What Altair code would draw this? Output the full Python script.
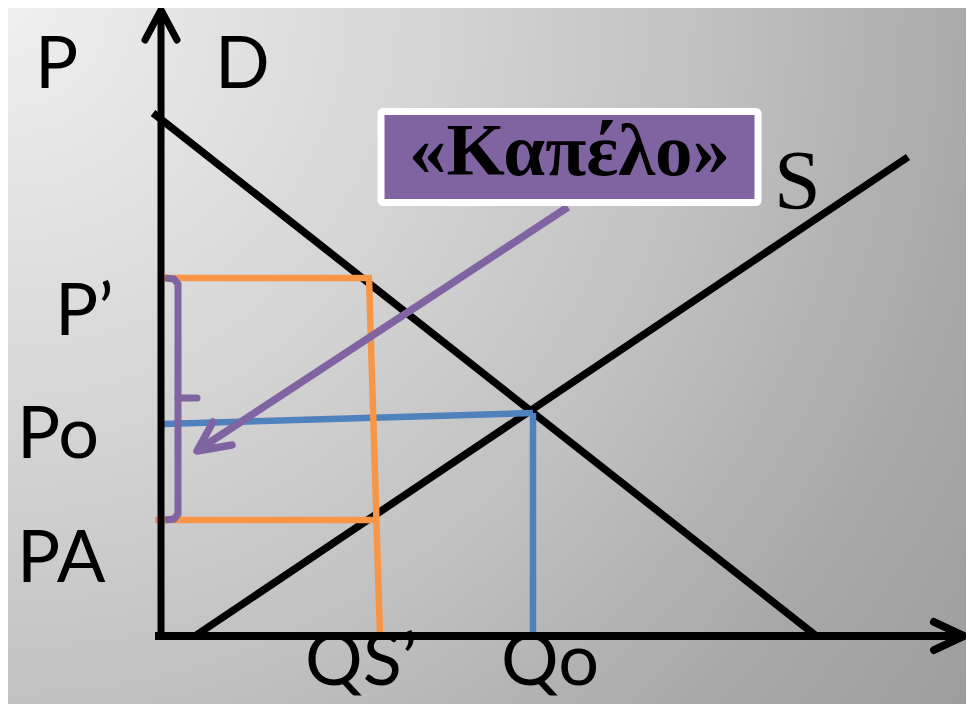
import altair as alt
import pandas as pd

# ---- frame of the diagram (quantity Q, price P, arbitrary units) ----
Q_MIN, Q_MAX = -15.3, 80.5
P_MIN, P_MAX = -6.8, 62.8

# ---- curves ----
demand_q = [-0.8, 65.4]
demand_p = [52.3, 0.1]
supply_q = [3.4, 74.7]
supply_p = [0.0, 47.9]

# ---- key values ----
Q0, P0 = 37.2, 22.3          # equilibrium
P0_AXIS = 21.2               # blue price line where it meets the axis
P_PRIME = 35.8               # price P'
P_A = 11.6                   # price PA
QS_TOP, QS_BOT = 20.8, 21.9  # QS' (orange, slightly slanted)

# ---- axis extents ----
x_axis_q = [-0.6, 80.3]
y_axis_p = [0.0, 62.6]

# ---- texts ----
axis_labels = ["P", "D", "P\u2019", "Po", "PA", "QS\u2019", "Qo"]
axis_label_q = [-12.6, 5.4, -10.6, -14.4, -14.4, 14.4, 34.0]
axis_label_p = [54.8, 54.8, 30.1, 17.8, 5.4, -4.9, -4.9]
supply_label = "S"
supply_label_q, supply_label_p = 61.3, 42.7
box_text = "\u00abΚαπέλο\u00bb"
box_q = [22.0, 59.7]
box_p = [43.35, 52.45]

BLACK = "#000000"
ORANGE = "#F79646"
BLUE = "#4F81BD"
PURPLE = "#8064A2"

X = alt.X("q:Q", scale=alt.Scale(domain=[Q_MIN, Q_MAX], nice=False, zero=False), axis=None)
Y = alt.Y("p:Q", scale=alt.Scale(domain=[P_MIN, P_MAX], nice=False, zero=False), axis=None)


def line(qs, ps, color, width, cap="butt"):
    df = pd.DataFrame({"q": qs, "p": ps, "i": list(range(len(qs)))})
    return alt.Chart(df).mark_line(
        color=color, strokeWidth=width, strokeCap=cap, strokeJoin="round"
    ).encode(x=X, y=Y, order="i:O")


gradient = {
    "gradient": "radial",
    "x1": 0, "y1": 0.137, "r1": 0,
    "x2": 0, "y2": 0.137, "r2": 1.3,
    "stops": [
        {"offset": 0.0, "color": "#efefef"},
        {"offset": 0.3, "color": "#d8d8d8"},
        {"offset": 0.57, "color": "#c0c0c0"},
        {"offset": 0.78, "color": "#a9a9a9"},
        {"offset": 1.0, "color": "#9a9a9a"},
    ],
}
bg = alt.Chart(pd.DataFrame({"q": [Q_MIN], "q2": [Q_MAX], "p": [P_MIN], "p2": [P_MAX]})).mark_rect(
    fill=gradient
).encode(x=X, x2="q2:Q", y=Y, y2="p2:Q")

demand = line(demand_q, demand_p, BLACK, 7.5)
supply = line(supply_q, supply_p, BLACK, 7.5)

blue_h = line([0.2, Q0], [P0_AXIS, P0], BLUE, 6.5)
blue_v = line([Q0, Q0], [P0, 0.0], BLUE, 6.5)

orange_top = line([0.2, QS_TOP + 0.3], [P_PRIME, P_PRIME], ORANGE, 6.5)
orange_v = line([QS_TOP, QS_BOT], [P_PRIME, 0.0], ORANGE, 6.5)
orange_bot = line([-0.6, QS_BOT - 0.1], [P_A, P_A], ORANGE, 6.5)

y_axis = line([0.0, 0.0], y_axis_p, BLACK, 7)
y_head = line([-1.6, 0.0, 1.6], [59.6, y_axis_p[1], 59.6], BLACK, 7, cap="round")
x_axis = line(x_axis_q, [0.0, 0.0], BLACK, 8)
x_head = line([x_axis_q[1] - 3.0, x_axis_q[1], x_axis_q[1] - 3.0], [1.4, 0.0, -1.4], BLACK, 8, cap="round")

bracket = line([0.4, 1.3, 1.7, 1.7, 1.3, 0.4],
               [P_PRIME, P_PRIME - 0.1, P_PRIME - 0.6, P_A + 0.6, P_A + 0.1, P_A], PURPLE, 7)
bracket_nub = line([1.7, 3.6], [23.8, 23.8], PURPLE, 7, cap="round")

arrow_shaft = line([40.7, 3.7], [42.9, 18.6], PURPLE, 7.5)
arrow_head = line([5.2, 3.6, 7.1], [21.4, 18.5, 19.1], PURPLE, 7.5, cap="round")

box = alt.Chart(pd.DataFrame({"q": [box_q[0]], "q2": [box_q[1]], "p": [box_p[0]], "p2": [box_p[1]]})).mark_rect(
    fill=PURPLE, stroke="white", strokeWidth=7, cornerRadius=2
).encode(x=X, x2="q2:Q", y=Y, y2="p2:Q")

box_label = alt.Chart(pd.DataFrame({"q": [(box_q[0] + box_q[1]) / 2], "p": [46.1], "t": [box_text]})).mark_text(
    font="Liberation Serif", fontWeight="bold", fontSize=75, align="center", baseline="alphabetic", color=BLACK
).encode(x=X, y=Y, text="t:N")

labels = alt.Chart(pd.DataFrame({"q": axis_label_q, "p": axis_label_p, "t": axis_labels})).mark_text(
    font="Lato", fontSize=72, align="left", baseline="alphabetic", color=BLACK
).encode(x=X, y=Y, text="t:N")

s_label = alt.Chart(pd.DataFrame({"q": [supply_label_q], "p": [supply_label_p], "t": [supply_label]})).mark_text(
    font="Liberation Serif", fontSize=84, align="left", baseline="alphabetic", color=BLACK
).encode(x=X, y=Y, text="t:N")

chart = alt.layer(
    bg, demand, supply, blue_h, blue_v, orange_top, orange_v, orange_bot,
    y_axis, y_head, x_axis, x_head, bracket, bracket_nub, arrow_shaft, arrow_head,
    box, box_label, labels, s_label,
).properties(
    width=958, height=696, padding=0,
    autosize=alt.AutoSizeParams(type="none"),
).configure_view(stroke=None).configure(background="#9c9c9c")

chart.save("out.html", embed_options={"renderer": "svg", "actions": False})
